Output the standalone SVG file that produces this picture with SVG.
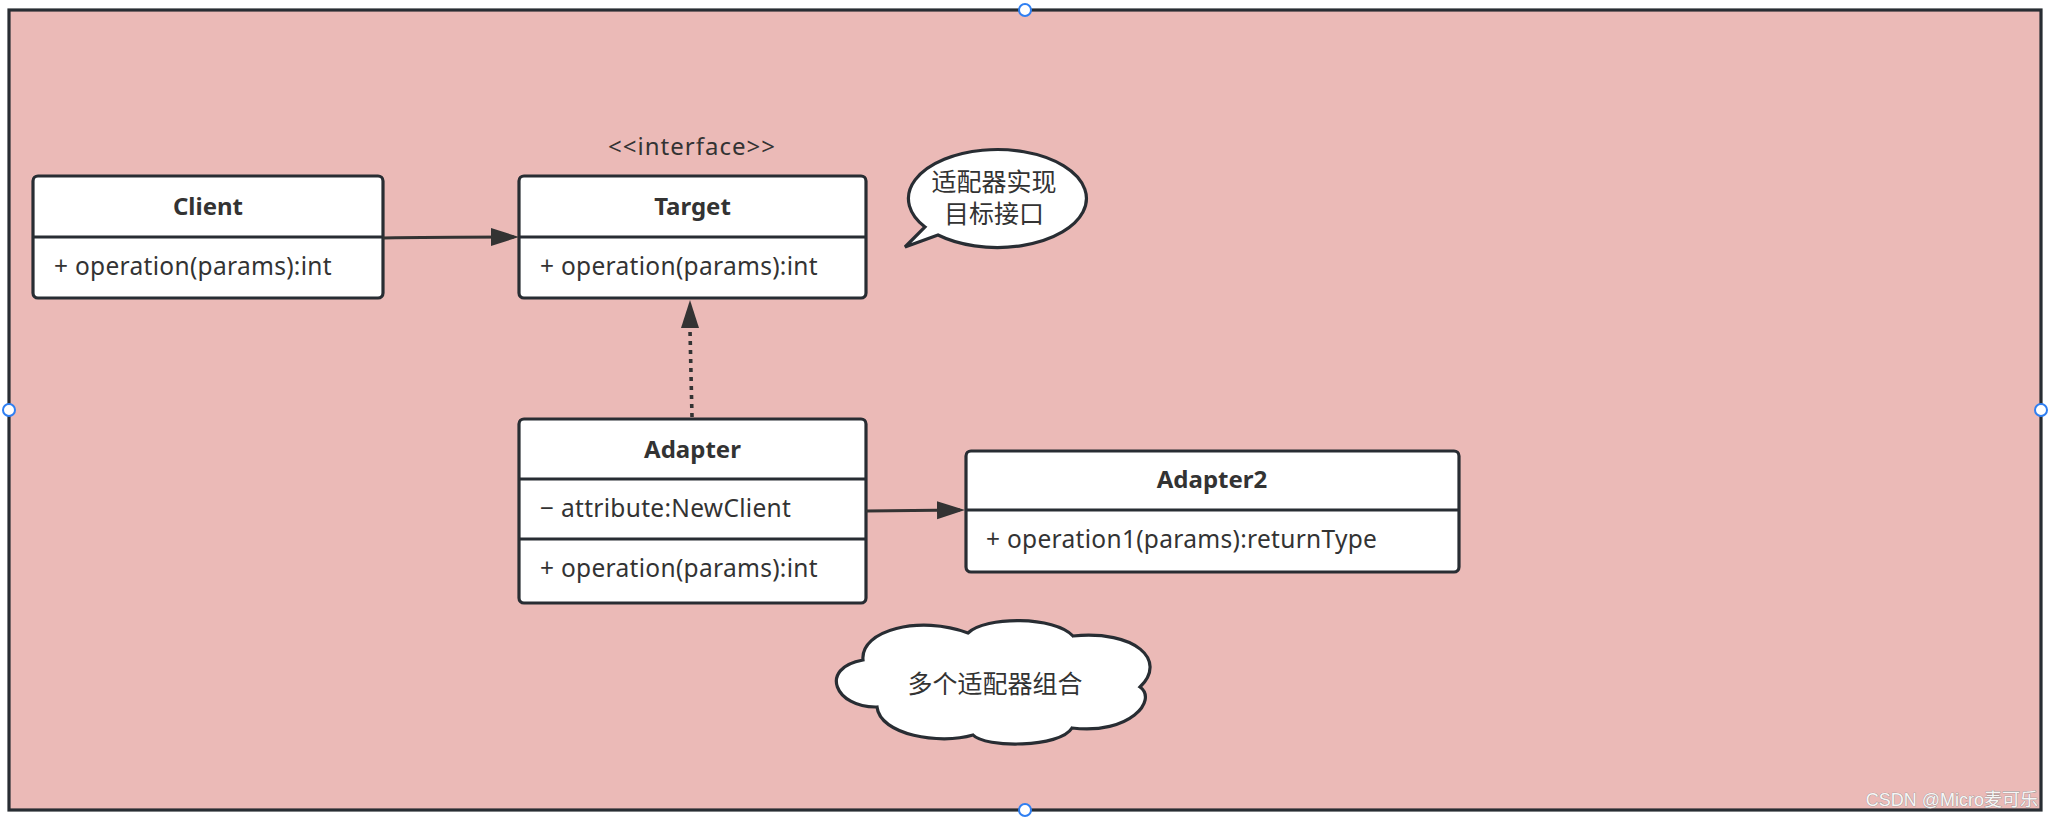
<svg xmlns="http://www.w3.org/2000/svg" width="2054" height="820" viewBox="0 0 2054 820">
<style>
.frame{fill:#ebbab7;stroke:#282d33;stroke-width:3.2}
.box{fill:#ffffff;stroke:#282d33;stroke-width:3.2}
.div{stroke:#282d33;stroke-width:3.2}
.title{font-family:"Noto Sans","Noto Sans CJK SC",sans-serif;font-size:24px;font-weight:bold;fill:#333333;text-anchor:middle}
.body{font-family:"Noto Sans","Noto Sans CJK SC",sans-serif;font-size:24.5px;letter-spacing:0.3px;fill:#333333}
.cjk{font-family:"Noto Sans CJK SC",sans-serif;font-size:25px;fill:#333333;text-anchor:middle;dominant-baseline:central}
.stereo{font-family:"Noto Sans","Noto Sans CJK SC",sans-serif;font-size:24px;letter-spacing:1px;fill:#333333;text-anchor:middle}
.conn{fill:none;stroke:#333333;stroke-width:3.2}
.dotted{fill:none;stroke:#333333;stroke-width:3.6;stroke-dasharray:4 5}
.handle{fill:#ffffff;stroke:#2f7ff2;stroke-width:2}
.wm{font-family:"Liberation Sans","Noto Sans CJK SC",sans-serif;font-size:18px;fill:#f6f6f6;stroke:#8e8e8e;stroke-width:0.7;paint-order:stroke;text-anchor:end}
</style>
<defs>
<marker id="arrow" markerUnits="userSpaceOnUse" markerWidth="30" markerHeight="20" refX="23" refY="9" orient="auto">
<path d="M0,0 L28,9 L0,18 Z" fill="#333333"/>
</marker>
</defs>

<g id="frame">
<rect class="frame" x="9" y="10" width="2032" height="800"/>
</g>

<g id="client">
<rect class="box" x="33" y="176" width="350" height="122" rx="5"/>
<line class="div" x1="33" y1="237" x2="383" y2="237"/>
<text class="title" x="208" y="215">Client</text>
<text class="body" x="54" y="275">+ operation(params):int</text>
</g>

<g id="target">
<text class="stereo" x="692" y="155">&lt;&lt;interface&gt;&gt;</text>
<rect class="box" x="519" y="176" width="347" height="122" rx="5"/>
<line class="div" x1="519" y1="237" x2="866" y2="237"/>
<text class="title" x="692.5" y="215">Target</text>
<text class="body" x="540" y="275">+ operation(params):int</text>
</g>

<g id="adapter">
<rect class="box" x="519" y="419" width="347" height="184" rx="5"/>
<line class="div" x1="519" y1="479" x2="866" y2="479"/>
<line class="div" x1="519" y1="539" x2="866" y2="539"/>
<text class="title" x="692.5" y="458">Adapter</text>
<text class="body" x="540" y="517">− attribute:NewClient</text>
<text class="body" x="540" y="577">+ operation(params):int</text>
</g>

<g id="adapter2">
<rect class="box" x="966" y="451" width="493" height="121" rx="5"/>
<line class="div" x1="966" y1="510" x2="1459" y2="510"/>
<text class="title" x="1212" y="488">Adapter2</text>
<text class="body" x="986" y="548">+ operation1(params):returnType</text>
</g>

<g id="note-bubble">
<path class="box" d="M925,227 A89 49 0 1 1 938,235 L905,247 Z"/>
<text class="cjk" x="994" y="180">适配器实现</text>
<text class="cjk" x="994" y="212">目标接口</text>
</g>

<g id="note-cloud">
<path class="box" d="M863,660 C860,630 920,615 968,633 C985,616 1055,616 1073,636 C1135,630 1168,660 1140,687 C1158,700 1130,735 1072,728 C1060,748 985,748 973,735 C940,745 880,735 877,707 C835,708 818,668 863,660 Z"/>
<text class="cjk" x="995" y="682">多个适配器组合</text>
</g>

<g id="connectors">
<path class="conn" d="M383,238 C430,237 470,237 514,237" marker-end="url(#arrow)"/>
<path class="conn" d="M866,511 L960,510" marker-end="url(#arrow)"/>
<path class="dotted" d="M692,417 L690,330"/>
<path d="M681,328 L690,300 L699,328 Z" fill="#333333"/>
</g>

<g id="handles">
<circle class="handle" cx="1025" cy="10" r="6"/>
<circle class="handle" cx="9" cy="410" r="6"/>
<circle class="handle" cx="2041" cy="410" r="6"/>
<circle class="handle" cx="1025" cy="810" r="6"/>
</g>

<text class="wm" x="2038" y="806">CSDN @Micro麦可乐</text>
</svg>
